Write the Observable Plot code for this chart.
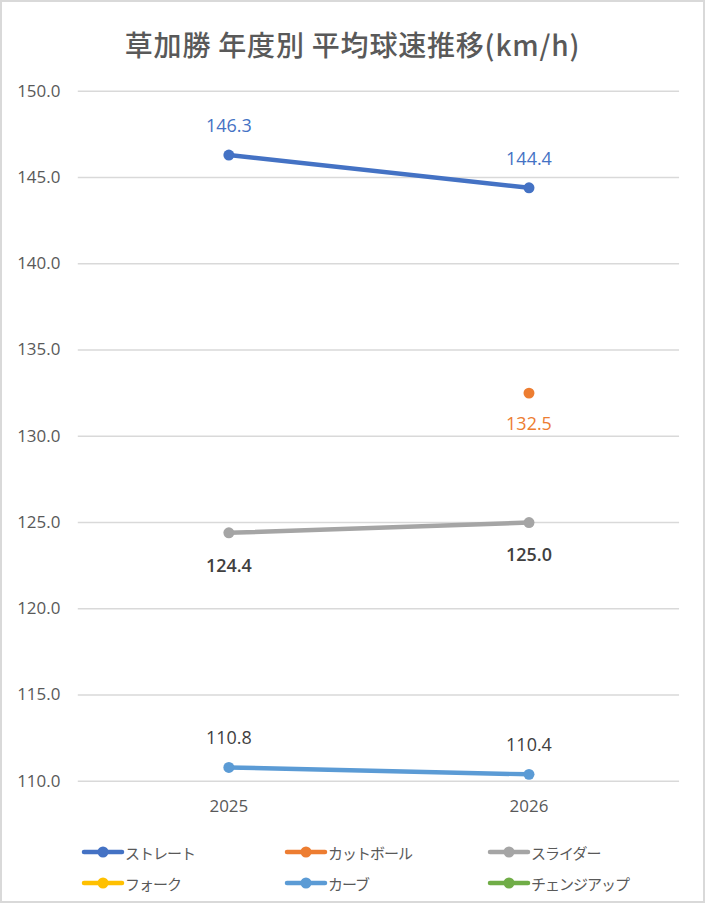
<!DOCTYPE html>
<html><head><meta charset="utf-8">
<script src="https://cdn.jsdelivr.net/npm/d3@7"></script>
<script src="https://cdn.jsdelivr.net/npm/@observablehq/plot@0.6"></script>
<style>
body{margin:0;background:#fff;}
#wrap{position:relative;width:705px;height:903px;box-sizing:border-box;border:2px solid #D9D9D9;background:#fff;overflow:hidden;
 font-family:"Open Sans","Noto Sans CJK JP",sans-serif;}
#title{position:absolute;left:0;width:701px;top:22px;text-align:center;font-size:28px;font-weight:500;color:#595959;
 font-family:"Noto Sans CJK JP","Open Sans",sans-serif;letter-spacing:0.8px;}
#chart{position:absolute;left:-2px;top:-2px;}
#legend{position:absolute;left:0;top:0;width:705px;}
.li{position:absolute;display:flex;align-items:center;font-size:15px;color:#595959;font-family:"Noto Sans CJK JP",sans-serif;letter-spacing:-1px;}
</style></head>
<body><div id="wrap"><div id="title">草加勝 年度別 平均球速推移(km/h)</div><div id="chart"></div><div id="legend"></div></div>
<script>
const years = ["2025", "2026"];
const pitches = ["ストレート", "カットボール", "スライダー", "フォーク", "カーブ", "チェンジアップ"];
const straight = [146.3, 144.4];
const cutter = [null, 132.5];
const slider = [124.4, 125.0];
const fork = [null, null];
const curve = [110.8, 110.4];
const changeup = [null, null];
const yTicks = [110, 115, 120, 125, 130, 135, 140, 145, 150];

const series = [straight, cutter, slider, fork, curve, changeup];
const colors = ["#4472C4", "#ED7D31", "#A5A5A5", "#FFC000", "#5B9BD5", "#70AD47"];
const labelFill = {"ストレート": "#4472C4", "カットボール": "#ED7D31", "スライダー": "#404040", "カーブ": "#404040"};
const below = new Set(["カットボール", "スライダー"]);

const rows = [];
pitches.forEach((p, i) => years.forEach((y, j) => rows.push({pitch: p, year: y, value: series[i][j]})));
const pts = rows.filter(d => d.value != null);

const chart = Plot.plot({
  width: 705, height: 832,
  marginTop: 91, marginBottom: 49, marginLeft: 78, marginRight: 24,
  style: {fontFamily: "'Open Sans', sans-serif", fontSize: "17px", color: "#595959", background: "transparent"},
  x: {type: "point", domain: years, padding: 0.5},
  y: {domain: [110, 150]},
  color: {domain: pitches, range: colors},
  marks: [
    Plot.gridY(yTicks, {stroke: "#D9D9D9", strokeOpacity: 1, strokeWidth: 1.3}),
    Plot.axisY(yTicks, {tickFormat: d => d.toFixed(1), label: null, tickSize: 0, tickPadding: 18, fontSize: 17, fill: "#595959"}),
    Plot.axisX(years, {label: null, tickSize: 0, tickPadding: 19, fontSize: 17, fill: "#595959"}),
    Plot.line(rows, {x: "year", y: "value", z: "pitch", stroke: "pitch", strokeWidth: 4.5, strokeLinecap: "round"}),
    Plot.dot(pts, {x: "year", y: "value", fill: "pitch", r: 5.5}),
    Plot.text(pts.filter(d => !below.has(d.pitch)), {x: "year", y: "value", text: d => d.value.toFixed(1), dy: -29,
      fill: d => labelFill[d.pitch], fontSize: 18}),
    Plot.text(pts.filter(d => d.pitch === "カットボール"), {x: "year", y: "value", text: d => d.value.toFixed(1), dy: 31,
      fill: d => labelFill[d.pitch], fontSize: 18}),
    Plot.text(pts.filter(d => d.pitch === "スライダー"), {x: "year", y: "value", text: d => d.value.toFixed(1), dy: 33,
      fill: d => labelFill[d.pitch], fontSize: 18, fontWeight: 600})
  ]
});
document.getElementById("chart").appendChild(chart);

const leg = document.getElementById("legend");
const colX = [79, 282, 485], rowY = [852, 883];
pitches.forEach((p, i) => {
  const el = document.createElement("div");
  el.className = "li";
  el.style.left = colX[i % 3] + "px";
  el.style.top = (rowY[Math.floor(i / 3)] - 2 - 12) + "px";
  el.style.height = "24px";
  el.innerHTML = `<svg width="44" height="12" style="margin-right:0px"><line x1="3" y1="6" x2="41" y2="6" stroke="${colors[i]}" stroke-width="4.5" stroke-linecap="round"/><circle cx="22" cy="6" r="5.5" fill="${colors[i]}"/></svg><span>${p}</span>`;
  leg.appendChild(el);
});
</script></body></html>
